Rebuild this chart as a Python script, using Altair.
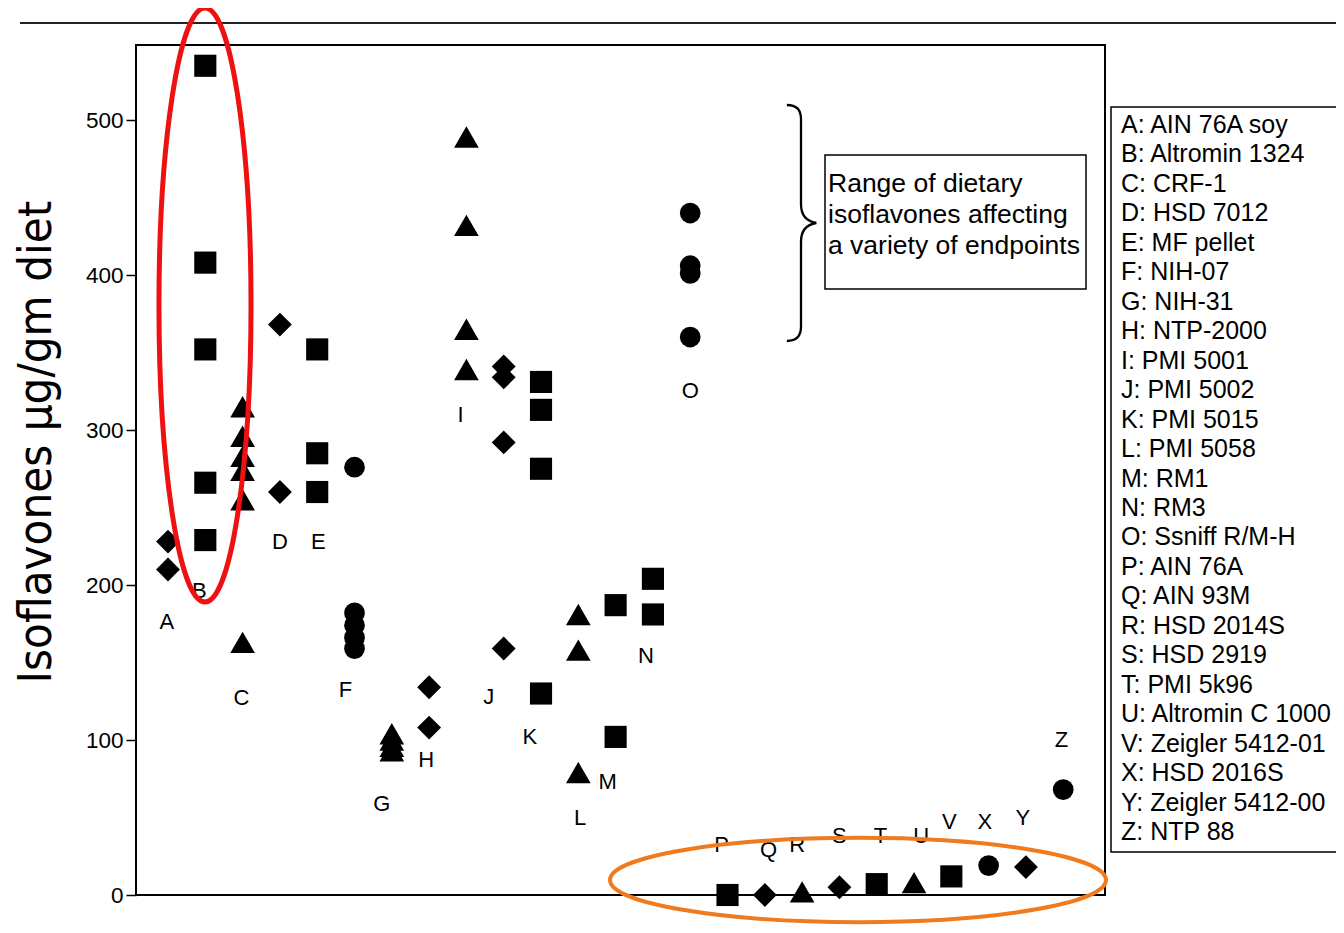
import altair as alt
import pandas as pd

# ---- data ----
diets = ["A", "B", "C", "D", "E", "F", "G", "H", "I", "J", "K", "L", "M",
         "N", "O", "P", "Q", "R", "S", "T", "U", "V", "X", "Y", "Z"]
diet_names = ["AIN 76A soy", "Altromin 1324", "CRF-1", "HSD 7012", "MF pellet",
              "NIH-07", "NIH-31", "NTP-2000", "PMI 5001", "PMI 5002", "PMI 5015",
              "PMI 5058", "RM1", "RM3", "Ssniff R/M-H", "AIN 76A", "AIN 93M",
              "HSD 2014S", "HSD 2919", "PMI 5k96", "Altromin C 1000",
              "Zeigler 5412-01", "HSD 2016S", "Zeigler 5412-00", "NTP 88"]
diet_shapes = ["diamond", "square", "triangle-up", "diamond", "square", "circle",
               "triangle-up", "diamond", "triangle-up", "diamond", "square",
               "triangle-up", "square", "square", "circle", "square", "diamond",
               "triangle-up", "diamond", "square", "triangle-up", "square",
               "circle", "diamond", "circle"]
diet_values = [
    [228, 210],                          # A
    [535, 408, 352, 266, 229],           # B
    [315, 296, 283, 274, 255, 163],      # C
    [368, 260],                          # D
    [352, 285, 260],                     # E
    [276, 182, 174, 166, 159],           # F
    [104, 100, 96, 93],                  # G
    [134, 108],                          # H
    [489, 432, 365, 339],                # I
    [341, 334, 292, 159],                # J
    [331, 313, 275, 130],                # K
    [181, 158, 79],                      # L
    [187, 102],                          # M
    [204, 181],                          # N
    [440, 406, 401, 360],                # O
    [0],                                 # P
    [0],                                 # Q
    [2],                                 # R
    [5],                                 # S
    [7],                                 # T
    [8],                                 # U
    [12],                                # V
    [19],                                # X
    [18],                                # Y
    [68],                                # Z
]
# letter labels placed next to each group (x in category units, y in data units)
label_x = [-0.03, 0.84, 1.97, 3.0, 4.03, 4.76, 5.73, 6.92, 7.84, 8.6, 9.7, 11.05,
           11.79, 12.81, 14.0, 14.84, 16.1, 16.87, 18.0, 19.1, 20.19, 20.95,
           21.9, 22.92, 23.95]
label_y = [176, 196, 127, 228, 228, 132, 59, 87, 310, 128, 102, 50, 73, 154, 325,
           32, 29, 32, 38, 38, 38, 47, 47, 50, 100]
y_ticks = [0, 100, 200, 300, 400, 500]
note_lines = ["Range of dietary", "isoflavones affecting", "a variety of endpoints"]

size_of = {"square": 490, "diamond": 570, "triangle-up": 610, "circle": 430}

rows = []
for i, (d, shp, vals) in enumerate(zip(diets, diet_shapes, diet_values)):
    for v in vals:
        rows.append({"diet": d, "xi": i, "value": v, "shape": shp, "size": size_of[shp]})
pts = pd.DataFrame(rows)
labels = pd.DataFrame({"diet": diets, "lx": label_x, "ly": label_y})
legend = pd.DataFrame({"txt": [f"{d}: {n}" for d, n in zip(diets, diet_names)],
                       "k": list(range(len(diets)))})
notes = pd.DataFrame({"txt": note_lines, "k": list(range(len(note_lines)))})

W, H = 969, 850
xs = alt.Scale(domain=[-0.858, 25.12], range=[0, W], nice=False, zero=False)
ys = alt.Scale(domain=[0, 548.4], nice=False, zero=True)
FONT = "Liberation Sans"

points = alt.Chart(pts).mark_point(filled=True, opacity=1, color="black", strokeWidth=0).encode(
    x=alt.X("xi:Q", scale=xs, axis=None),
    y=alt.Y("value:Q", scale=ys,
            axis=alt.Axis(values=y_ticks, title=None, grid=False, domain=False,
                          tickSize=10, tickColor="black", tickWidth=1.5,
                          labelFont=FONT, labelFontSize=22.5, labelColor="black",
                          labelPadding=3)),
    shape=alt.Shape("shape:N", scale=None),
    size=alt.Size("size:Q", scale=None),
)

letters = alt.Chart(labels).mark_text(font=FONT, fontSize=22, color="black",
                                      align="center", baseline="middle").encode(
    x=alt.X("lx:Q", scale=xs, axis=None), y=alt.Y("ly:Q", scale=ys, axis=None),
    text="diet:N")

ytitle = alt.Chart(pd.DataFrame({"t": ["Isoflavones μg/gm diet"]})).mark_text(
    font="DejaVu Sans Condensed", fontSize=47, angle=270, align="center",
    baseline="middle", color="black").encode(
    x=alt.value(-99), y=alt.value(397), text="t:N")

topline = alt.Chart(pd.DataFrame({"a": [0]})).mark_rule(color="#222", strokeWidth=2).encode(
    x=alt.value(-116), x2=alt.value(1220), y=alt.value(-22))

notebox = alt.Chart(pd.DataFrame({"a": [0]})).mark_rect(
    fill="white", fillOpacity=0, stroke="black", strokeWidth=1.5).encode(
    x=alt.value(689), x2=alt.value(950), y=alt.value(110), y2=alt.value(244))

notetext = alt.Chart(notes).mark_text(font=FONT, fontSize=26.5, align="left",
                                      baseline="middle", color="black").encode(
    x=alt.value(692),
    y=alt.Y("k:Q", scale=alt.Scale(domain=[0, 2], range=[139, 201]), axis=None),
    text="txt:N")

brace_path = ("M -0.12 -1 Q 0 -1 0 -0.88 L 0 -0.16 Q 0 -0.02 0.13 0 "
              "Q 0 0.02 0 0.16 L 0 0.88 Q 0 1 -0.12 1")
brace = alt.Chart(pd.DataFrame({"a": [0]})).mark_point(
    shape=brace_path, filled=False, stroke="black", strokeWidth=2.3, size=236 ** 2,
    opacity=1).encode(x=alt.value(665), y=alt.value(178))

legbox = alt.Chart(pd.DataFrame({"a": [0]})).mark_rect(
    fill="white", fillOpacity=0, stroke="black", strokeWidth=1.5).encode(
    x=alt.value(975), x2=alt.value(1300), y=alt.value(62), y2=alt.value(807))

legtext = alt.Chart(legend).mark_text(font=FONT, fontSize=25, align="left",
                                      baseline="middle", color="black").encode(
    x=alt.value(985),
    y=alt.Y("k:Q", scale=alt.Scale(domain=[0, 24], range=[80, 787]), axis=None),
    text="txt:N")

red_path = "M 0 -1 A 0.155 1 0 1 1 0 1 A 0.155 1 0 1 1 0 -1 Z"
red_ell = alt.Chart(pd.DataFrame({"a": [0]})).mark_point(
    shape=red_path, filled=False, stroke="#ee1111", strokeWidth=5, size=594 ** 2,
    opacity=1).encode(x=alt.value(69), y=alt.value(260))

orange_path = "M -1 0 A 1 0.17 0 1 1 1 0 A 1 0.17 0 1 1 -1 0 Z"
orange_ell = alt.Chart(pd.DataFrame({"a": [0]})).mark_point(
    shape=orange_path, filled=False, stroke="#f07a1e", strokeWidth=4, size=496 ** 2,
    opacity=1).encode(x=alt.value(722), y=alt.value(835))

chart = alt.layer(
    topline, notebox, notetext, brace, legbox, legtext, points, letters, ytitle,
    red_ell, orange_ell
).resolve_scale(y="independent").properties(
    width=W, height=H,
    autosize=alt.AutoSizeParams(type="none"),
    padding={"left": 128, "top": 37, "right": 231, "bottom": 30},
).configure_view(stroke="black", strokeWidth=2)

chart.save("out.html", embed_options={"renderer": "svg", "actions": False})
